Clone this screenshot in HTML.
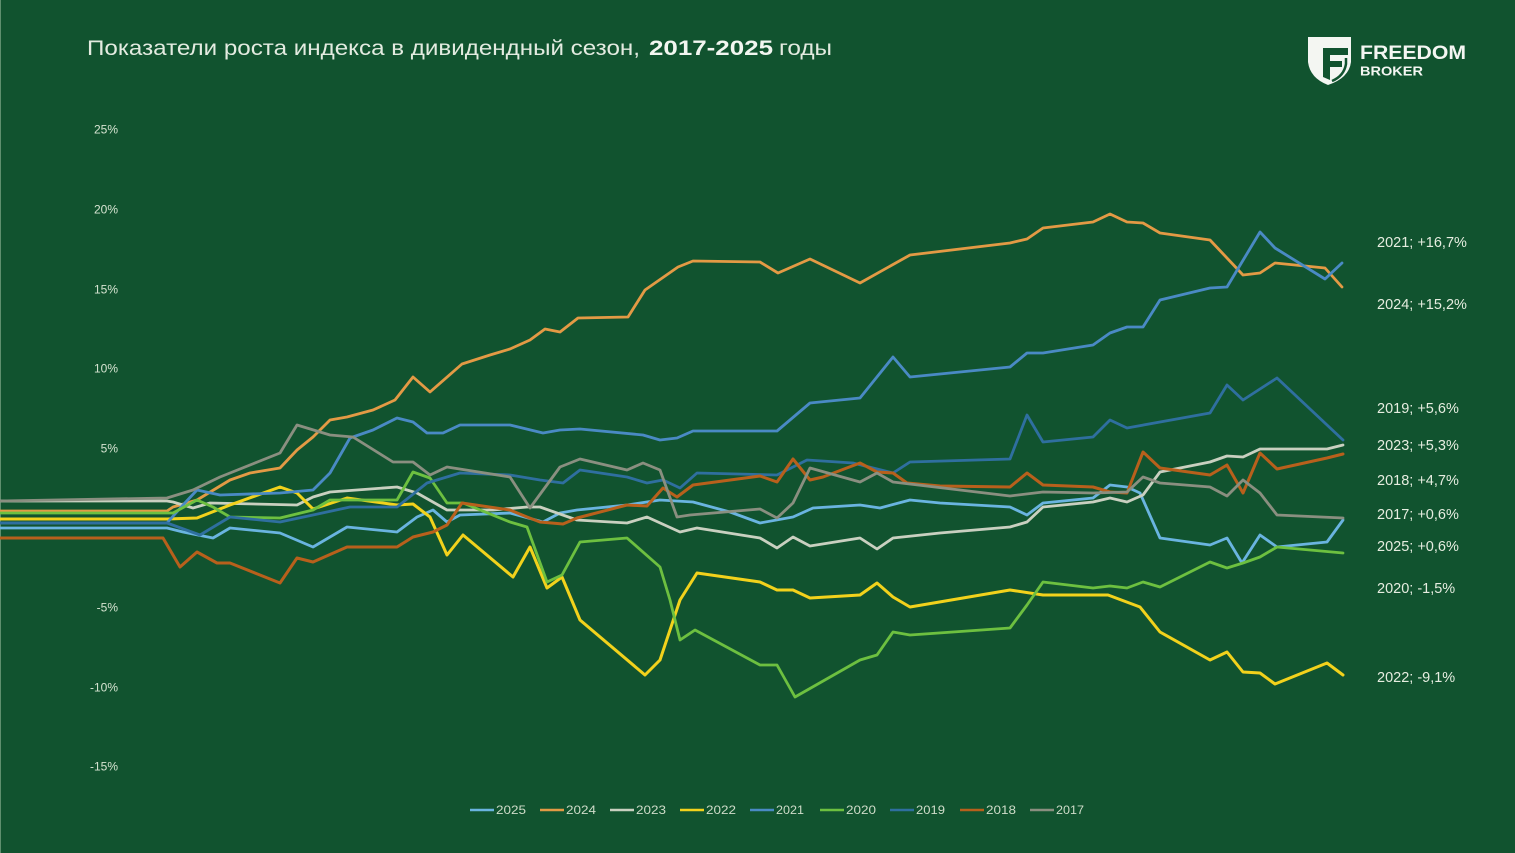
<!DOCTYPE html>
<html><head><meta charset="utf-8"><style>
html,body{margin:0;padding:0;background:#11532f;}
svg{display:block}
text{font-family:"Liberation Sans","DejaVu Sans",sans-serif}
</style></head><body>
<svg width="1515" height="853" viewBox="0 0 1515 853" xmlns="http://www.w3.org/2000/svg">
<rect width="1515" height="853" fill="#11532f"/>
<line x1="0.5" y1="0" x2="0.5" y2="853" stroke="#5f8f6e" stroke-width="1"/>
<text x="87" y="55" font-size="21" fill="#e3ebe0" textLength="553" lengthAdjust="spacingAndGlyphs">Показатели роста индекса в дивидендный сезон,</text>
<text x="649" y="55" font-size="21" font-weight="bold" fill="#f2f6f0" textLength="124" lengthAdjust="spacingAndGlyphs">2017-2025</text>
<text x="779" y="55" font-size="21" fill="#e3ebe0" textLength="53" lengthAdjust="spacingAndGlyphs">годы</text>
<g>
<path d="M1308,37 L1351,37 L1351,62 Q1349,78 1328,85 Q1310,78 1308,62 Z" fill="#f4f6f2"/>
<path d="M1323,48 L1348,48 L1348,55 L1330,55 L1330,61 L1342,61 L1342,67 L1330,67 L1330,80 L1323,77 Z" fill="#11532f"/>
<path d="M1346,58 L1346,64 Q1344,76 1332,81" fill="none" stroke="#11532f" stroke-width="2.5"/>
</g>
<text x="1360" y="59" font-size="19" font-weight="bold" fill="#f4f6f2" textLength="106" lengthAdjust="spacingAndGlyphs">FREEDOM</text>
<text x="1360" y="75.5" font-size="13" font-weight="bold" fill="#f4f6f2" textLength="63" lengthAdjust="spacingAndGlyphs">BROKER</text>
<g font-size="12" fill="#d5e3d0" text-anchor="end">
<text x="118" y="133.5">25%</text>
<text x="118" y="213.5">20%</text>
<text x="118" y="293.5">15%</text>
<text x="118" y="372.5">10%</text>
<text x="118" y="452.5">5%</text>
<text x="118" y="611.5">-5%</text>
<text x="118" y="691.5">-10%</text>
<text x="118" y="770.5">-15%</text>
</g>
<g fill="none" stroke-width="2.8" stroke-linejoin="round" stroke-linecap="round">
<polyline stroke="#6ab4e0" points="0,528 167,528 183,532 213,538 230,528 280,533 313,547 347,527 397,532 417,517 433,510 447,522 460,515 510,513 543,522 560,513 577,510 627,505 660,500 693,502 730,512 760,523 793,517 813,508 860,505 880,508 910,500 940,503 1010,507 1027,515 1043,503 1093,498 1110,485 1127,487 1140,493 1160,538 1210,545 1227,538 1242,563 1260,535 1277,547 1327,542 1343,520"/>
<polyline stroke="#e39a45" points="0,511 167,511 173,507 197,500 230,480 250,473 280,468 297,450 313,437 330,420 347,417 373,410 395,400 413,377 430,392 462,364 490,355 510,349 530,340 545,329 560,332 578,318 628,317 645,290 678,267 693,261 760,262 778,273 810,259 860,283 910,255 1010,243 1027,239 1043,228 1093,222 1110,214 1127,222 1143,223 1160,233 1210,240 1243,275 1260,273 1275,263 1325,268 1342,287"/>
<polyline stroke="#c9d0c0" points="0,501 167,501 173,502 193,508 210,503 297,505 313,497 330,492 397,487 417,493 447,510 493,510 527,507 540,507 577,520 627,523 647,517 680,532 697,528 760,538 777,548 793,537 810,546 860,538 877,549 893,538 940,533 1010,527 1027,522 1043,507 1093,502 1110,498 1127,502 1143,495 1160,472 1210,462 1227,456 1243,457 1260,449 1327,449 1343,445"/>
<polyline stroke="#f2d21c" stroke-width="3" points="0,519 167,519 197,518 230,505 280,487 297,493 313,509 347,498 397,505 413,504 430,517 447,555 463,535 513,577 530,547 547,588 562,577 580,620 645,675 660,660 680,600 697,573 760,582 777,590 793,590 810,598 860,595 877,583 893,597 910,607 1010,590 1043,595 1108,595 1140,607 1160,632 1210,660 1227,652 1243,672 1260,673 1275,684 1327,663 1343,675"/>
<polyline stroke="#4a8ac4" points="0,523 167,523 183,505 197,490 220,495 280,493 313,490 330,473 350,438 373,430 397,418 413,422 427,433 443,433 460,425 510,425 543,433 560,430 580,429 643,435 660,440 677,438 693,431 777,431 810,403 860,398 893,357 910,377 1010,367 1027,353 1043,353 1093,345 1110,333 1127,327 1143,327 1160,300 1210,288 1227,287 1260,232 1275,248 1325,279 1342,263"/>
<polyline stroke="#6dc040" points="0,513 167,513 173,513 197,500 213,507 230,517 280,518 313,510 330,500 397,500 413,472 430,478 447,503 463,503 510,522 527,527 547,582 562,575 580,542 627,538 660,567 670,600 680,640 695,630 760,665 777,665 795,697 860,660 877,655 893,632 910,635 1010,628 1027,605 1043,582 1093,588 1110,586 1127,588 1143,582 1160,587 1210,562 1227,568 1243,563 1260,557 1277,547 1343,553"/>
<polyline stroke="#2f6f9f" points="0,523 167,523 200,535 230,517 280,522 313,515 350,507 397,507 427,483 460,473 510,475 540,480 563,483 580,470 627,477 647,483 663,480 680,488 697,473 777,475 807,460 853,463 893,473 910,462 1010,459 1027,415 1043,442 1093,437 1110,420 1127,428 1210,413 1227,385 1243,400 1277,378 1343,440"/>
<polyline stroke="#b8601c" stroke-width="3" points="0,538 163,538 180,567 197,552 217,563 230,563 280,583 297,558 313,562 347,547 397,547 413,537 433,532 447,525 462,503 510,510 527,517 540,522 563,524 577,518 627,505 647,506 663,488 677,497 693,485 760,476 777,482 793,459 810,480 823,477 860,463 877,472 893,473 907,483 940,486 1010,487 1027,473 1043,485 1093,487 1110,492 1127,493 1143,452 1160,468 1210,475 1227,465 1243,493 1260,453 1277,469 1327,458 1343,454"/>
<polyline stroke="#8a8f80" points="0,501 167,498 193,490 220,477 280,453 297,425 330,435 353,437 393,462 413,462 430,475 447,467 510,477 530,508 560,467 580,459 627,470 643,463 660,470 677,517 690,515 760,509 777,518 793,503 810,468 860,482 877,473 893,482 960,490 1010,496 1043,492 1093,493 1127,492 1143,477 1160,483 1210,487 1227,496 1243,480 1260,493 1277,515 1343,518"/>
</g>
<g font-size="14.5" fill="#e6ede0">
<text x="1377" y="247">2021; +16,7%</text>
<text x="1377" y="309">2024; +15,2%</text>
<text x="1377" y="413">2019; +5,6%</text>
<text x="1377" y="450">2023; +5,3%</text>
<text x="1377" y="485">2018; +4,7%</text>
<text x="1377" y="519">2017; +0,6%</text>
<text x="1377" y="551">2025; +0,6%</text>
<text x="1377" y="593">2020; -1,5%</text>
<text x="1377" y="682">2022; -9,1%</text>
</g>
<g stroke-width="2.6">
<line x1="470" y1="810" x2="494" y2="810" stroke="#6ab4e0"/>
<line x1="540" y1="810" x2="564" y2="810" stroke="#e39a45"/>
<line x1="610" y1="810" x2="634" y2="810" stroke="#c9d0c0"/>
<line x1="680" y1="810" x2="704" y2="810" stroke="#f2d21c"/>
<line x1="750" y1="810" x2="774" y2="810" stroke="#4a8ac4"/>
<line x1="820" y1="810" x2="844" y2="810" stroke="#6dc040"/>
<line x1="890" y1="810" x2="914" y2="810" stroke="#2f6f9f"/>
<line x1="960" y1="810" x2="984" y2="810" stroke="#b8601c"/>
<line x1="1030" y1="810" x2="1054" y2="810" stroke="#8a8f80"/>
</g>
<g font-size="12" fill="#cfdcc9">
<text x="496" y="814" textLength="30" lengthAdjust="spacingAndGlyphs">2025</text>
<text x="566" y="814" textLength="30" lengthAdjust="spacingAndGlyphs">2024</text>
<text x="636" y="814" textLength="30" lengthAdjust="spacingAndGlyphs">2023</text>
<text x="706" y="814" textLength="30" lengthAdjust="spacingAndGlyphs">2022</text>
<text x="776" y="814" textLength="28" lengthAdjust="spacingAndGlyphs">2021</text>
<text x="846" y="814" textLength="30" lengthAdjust="spacingAndGlyphs">2020</text>
<text x="916" y="814" textLength="29" lengthAdjust="spacingAndGlyphs">2019</text>
<text x="986" y="814" textLength="30" lengthAdjust="spacingAndGlyphs">2018</text>
<text x="1056" y="814" textLength="28" lengthAdjust="spacingAndGlyphs">2017</text>
</g>
</svg>
</body></html>
